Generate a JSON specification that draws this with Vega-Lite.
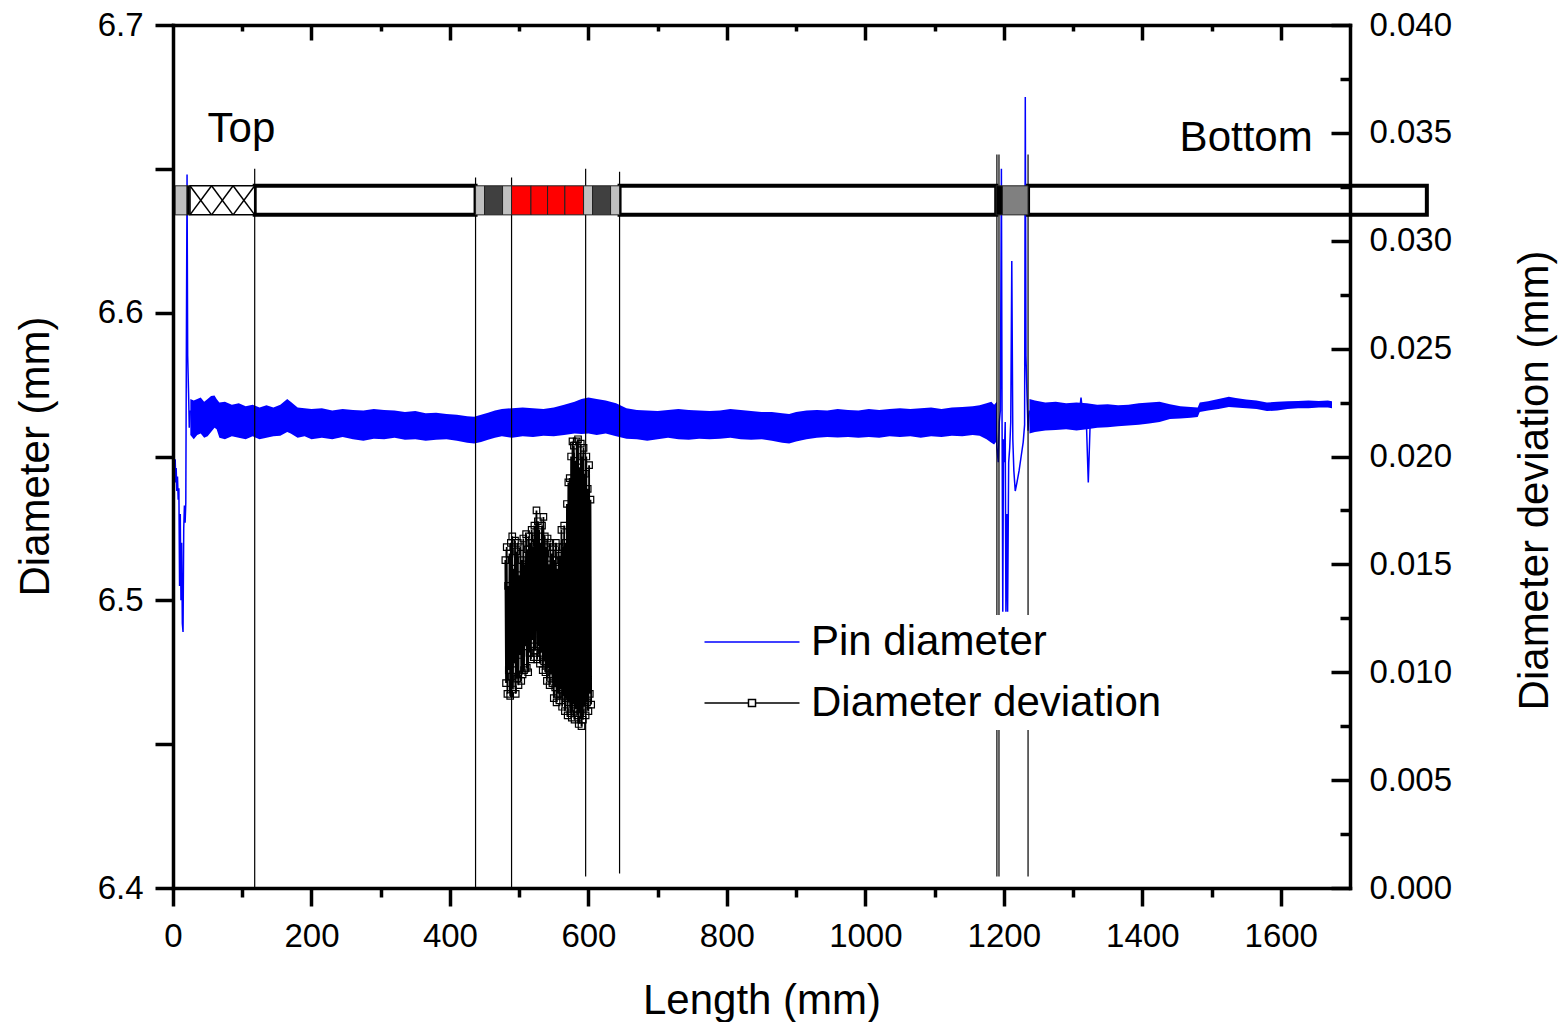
{
  "$schema": "https://vega.github.io/schema/vega-lite/v6.json",
  "width": 1177,
  "height": 863,
  "autosize": {"type": "none"},
  "padding": {"left": 173, "top": 25, "right": 212, "bottom": 134},
  "background": "white",
  "config": {
    "view": {"stroke": null},
    "font": "Liberation Sans",
    "axis": {
      "domainColor": "#000000", "domainWidth": 3.5, "domainCap": "square",
      "tickColor": "#000000", "tickWidth": 3.5,
      "labelColor": "#000000", "titleColor": "#000000",
      "labelFont": "Liberation Sans", "titleFont": "Liberation Sans",
      "labelFontSize": 33, "titleFontSize": 42, "titleFontWeight": "normal",
      "grid": false, "labelFlush": false, "labelOverlap": false
    }
  },
  "datasets": {
    "band": [
      {"mm": 25, "lo": 6.5575, "hi": 6.5700, "seg": "a"},
      {"mm": 30, "lo": 6.5560, "hi": 6.5695, "seg": "a"},
      {"mm": 35, "lo": 6.5575, "hi": 6.5700, "seg": "a"},
      {"mm": 40, "lo": 6.5580, "hi": 6.5705, "seg": "a"},
      {"mm": 45, "lo": 6.5565, "hi": 6.5690, "seg": "a"},
      {"mm": 50, "lo": 6.5570, "hi": 6.5700, "seg": "a"},
      {"mm": 55, "lo": 6.5585, "hi": 6.5710, "seg": "a"},
      {"mm": 60, "lo": 6.5600, "hi": 6.5712, "seg": "a"},
      {"mm": 63, "lo": 6.5595, "hi": 6.5700, "seg": "a"},
      {"mm": 67, "lo": 6.5565, "hi": 6.5688, "seg": "a"},
      {"mm": 75, "lo": 6.5560, "hi": 6.5690, "seg": "a"},
      {"mm": 85, "lo": 6.5570, "hi": 6.5680, "seg": "a"},
      {"mm": 95, "lo": 6.5565, "hi": 6.5685, "seg": "a"},
      {"mm": 105, "lo": 6.5560, "hi": 6.5675, "seg": "a"},
      {"mm": 115, "lo": 6.5570, "hi": 6.5680, "seg": "a"},
      {"mm": 125, "lo": 6.5560, "hi": 6.5670, "seg": "a"},
      {"mm": 135, "lo": 6.5565, "hi": 6.5678, "seg": "a"},
      {"mm": 145, "lo": 6.5570, "hi": 6.5670, "seg": "a"},
      {"mm": 155, "lo": 6.5572, "hi": 6.5680, "seg": "a"},
      {"mm": 165, "lo": 6.5585, "hi": 6.5700, "seg": "a"},
      {"mm": 170, "lo": 6.5580, "hi": 6.5690, "seg": "a"},
      {"mm": 180, "lo": 6.5565, "hi": 6.5670, "seg": "a"},
      {"mm": 190, "lo": 6.5570, "hi": 6.5668, "seg": "a"},
      {"mm": 200, "lo": 6.5560, "hi": 6.5665, "seg": "a"},
      {"mm": 215, "lo": 6.5565, "hi": 6.5668, "seg": "a"},
      {"mm": 230, "lo": 6.5560, "hi": 6.5660, "seg": "a"},
      {"mm": 245, "lo": 6.5568, "hi": 6.5665, "seg": "a"},
      {"mm": 260, "lo": 6.5560, "hi": 6.5662, "seg": "a"},
      {"mm": 275, "lo": 6.5555, "hi": 6.5660, "seg": "a"},
      {"mm": 290, "lo": 6.5562, "hi": 6.5665, "seg": "a"},
      {"mm": 305, "lo": 6.5560, "hi": 6.5662, "seg": "a"},
      {"mm": 320, "lo": 6.5565, "hi": 6.5660, "seg": "a"},
      {"mm": 335, "lo": 6.5558, "hi": 6.5655, "seg": "a"},
      {"mm": 350, "lo": 6.5560, "hi": 6.5658, "seg": "a"},
      {"mm": 365, "lo": 6.5555, "hi": 6.5650, "seg": "a"},
      {"mm": 380, "lo": 6.5558, "hi": 6.5652, "seg": "a"},
      {"mm": 395, "lo": 6.5560, "hi": 6.5648, "seg": "a"},
      {"mm": 410, "lo": 6.5555, "hi": 6.5645, "seg": "a"},
      {"mm": 425, "lo": 6.5548, "hi": 6.5640, "seg": "a"},
      {"mm": 435, "lo": 6.5545, "hi": 6.5638, "seg": "a"},
      {"mm": 445, "lo": 6.5550, "hi": 6.5645, "seg": "a"},
      {"mm": 455, "lo": 6.5558, "hi": 6.5652, "seg": "a"},
      {"mm": 465, "lo": 6.5565, "hi": 6.5660, "seg": "a"},
      {"mm": 475, "lo": 6.5570, "hi": 6.5665, "seg": "a"},
      {"mm": 490, "lo": 6.5565, "hi": 6.5668, "seg": "a"},
      {"mm": 505, "lo": 6.5570, "hi": 6.5670, "seg": "a"},
      {"mm": 520, "lo": 6.5568, "hi": 6.5668, "seg": "a"},
      {"mm": 535, "lo": 6.5572, "hi": 6.5665, "seg": "a"},
      {"mm": 550, "lo": 6.5570, "hi": 6.5670, "seg": "a"},
      {"mm": 565, "lo": 6.5575, "hi": 6.5680, "seg": "a"},
      {"mm": 580, "lo": 6.5580, "hi": 6.5690, "seg": "a"},
      {"mm": 590, "lo": 6.5578, "hi": 6.5700, "seg": "a"},
      {"mm": 600, "lo": 6.5580, "hi": 6.5705, "seg": "a"},
      {"mm": 612, "lo": 6.5575, "hi": 6.5700, "seg": "a"},
      {"mm": 625, "lo": 6.5580, "hi": 6.5695, "seg": "a"},
      {"mm": 640, "lo": 6.5570, "hi": 6.5685, "seg": "a"},
      {"mm": 655, "lo": 6.5562, "hi": 6.5668, "seg": "a"},
      {"mm": 670, "lo": 6.5560, "hi": 6.5662, "seg": "a"},
      {"mm": 685, "lo": 6.5555, "hi": 6.5660, "seg": "a"},
      {"mm": 700, "lo": 6.5560, "hi": 6.5658, "seg": "a"},
      {"mm": 715, "lo": 6.5565, "hi": 6.5662, "seg": "a"},
      {"mm": 730, "lo": 6.5560, "hi": 6.5665, "seg": "a"},
      {"mm": 745, "lo": 6.5558, "hi": 6.5662, "seg": "a"},
      {"mm": 760, "lo": 6.5562, "hi": 6.5660, "seg": "a"},
      {"mm": 775, "lo": 6.5560, "hi": 6.5658, "seg": "a"},
      {"mm": 790, "lo": 6.5562, "hi": 6.5660, "seg": "a"},
      {"mm": 805, "lo": 6.5565, "hi": 6.5665, "seg": "a"},
      {"mm": 820, "lo": 6.5560, "hi": 6.5662, "seg": "a"},
      {"mm": 835, "lo": 6.5558, "hi": 6.5658, "seg": "a"},
      {"mm": 850, "lo": 6.5560, "hi": 6.5655, "seg": "a"},
      {"mm": 865, "lo": 6.5555, "hi": 6.5655, "seg": "a"},
      {"mm": 880, "lo": 6.5548, "hi": 6.5650, "seg": "a"},
      {"mm": 890, "lo": 6.5545, "hi": 6.5648, "seg": "a"},
      {"mm": 900, "lo": 6.5552, "hi": 6.5655, "seg": "a"},
      {"mm": 915, "lo": 6.5560, "hi": 6.5660, "seg": "a"},
      {"mm": 930, "lo": 6.5565, "hi": 6.5662, "seg": "a"},
      {"mm": 945, "lo": 6.5568, "hi": 6.5660, "seg": "a"},
      {"mm": 960, "lo": 6.5566, "hi": 6.5665, "seg": "a"},
      {"mm": 975, "lo": 6.5568, "hi": 6.5662, "seg": "a"},
      {"mm": 990, "lo": 6.5565, "hi": 6.5660, "seg": "a"},
      {"mm": 1005, "lo": 6.5568, "hi": 6.5665, "seg": "a"},
      {"mm": 1020, "lo": 6.5565, "hi": 6.5662, "seg": "a"},
      {"mm": 1035, "lo": 6.5570, "hi": 6.5665, "seg": "a"},
      {"mm": 1050, "lo": 6.5568, "hi": 6.5668, "seg": "a"},
      {"mm": 1065, "lo": 6.5570, "hi": 6.5665, "seg": "a"},
      {"mm": 1080, "lo": 6.5565, "hi": 6.5668, "seg": "a"},
      {"mm": 1095, "lo": 6.5570, "hi": 6.5670, "seg": "a"},
      {"mm": 1110, "lo": 6.5568, "hi": 6.5665, "seg": "a"},
      {"mm": 1125, "lo": 6.5572, "hi": 6.5670, "seg": "a"},
      {"mm": 1140, "lo": 6.5570, "hi": 6.5672, "seg": "a"},
      {"mm": 1155, "lo": 6.5575, "hi": 6.5675, "seg": "a"},
      {"mm": 1165, "lo": 6.5572, "hi": 6.5678, "seg": "a"},
      {"mm": 1175, "lo": 6.5560, "hi": 6.5685, "seg": "a"},
      {"mm": 1182, "lo": 6.5548, "hi": 6.5690, "seg": "a"},
      {"mm": 1186, "lo": 6.5542, "hi": 6.5680, "seg": "a"},
      {"mm": 1190, "lo": 6.5555, "hi": 6.5690, "seg": "a"},
      {"mm": 1237, "lo": 6.5580, "hi": 6.5700, "seg": "b"},
      {"mm": 1245, "lo": 6.5585, "hi": 6.5695, "seg": "b"},
      {"mm": 1260, "lo": 6.5590, "hi": 6.5688, "seg": "b"},
      {"mm": 1275, "lo": 6.5592, "hi": 6.5690, "seg": "b"},
      {"mm": 1290, "lo": 6.5595, "hi": 6.5685, "seg": "b"},
      {"mm": 1305, "lo": 6.5590, "hi": 6.5688, "seg": "b"},
      {"mm": 1320, "lo": 6.5595, "hi": 6.5685, "seg": "b"},
      {"mm": 1335, "lo": 6.5600, "hi": 6.5680, "seg": "b"},
      {"mm": 1350, "lo": 6.5602, "hi": 6.5682, "seg": "b"},
      {"mm": 1365, "lo": 6.5605, "hi": 6.5678, "seg": "b"},
      {"mm": 1380, "lo": 6.5608, "hi": 6.5680, "seg": "b"},
      {"mm": 1395, "lo": 6.5610, "hi": 6.5685, "seg": "b"},
      {"mm": 1410, "lo": 6.5615, "hi": 6.5688, "seg": "b"},
      {"mm": 1425, "lo": 6.5620, "hi": 6.5690, "seg": "b"},
      {"mm": 1440, "lo": 6.5630, "hi": 6.5682, "seg": "b"},
      {"mm": 1455, "lo": 6.5632, "hi": 6.5675, "seg": "b"},
      {"mm": 1470, "lo": 6.5635, "hi": 6.5672, "seg": "b"},
      {"mm": 1480, "lo": 6.5637, "hi": 6.5670, "seg": "b"},
      {"mm": 1483, "lo": 6.5655, "hi": 6.5688, "seg": "b"},
      {"mm": 1495, "lo": 6.5660, "hi": 6.5692, "seg": "b"},
      {"mm": 1510, "lo": 6.5665, "hi": 6.5700, "seg": "b"},
      {"mm": 1525, "lo": 6.5672, "hi": 6.5708, "seg": "b"},
      {"mm": 1535, "lo": 6.5670, "hi": 6.5703, "seg": "b"},
      {"mm": 1550, "lo": 6.5668, "hi": 6.5698, "seg": "b"},
      {"mm": 1565, "lo": 6.5665, "hi": 6.5695, "seg": "b"},
      {"mm": 1580, "lo": 6.5658, "hi": 6.5688, "seg": "b"},
      {"mm": 1595, "lo": 6.5660, "hi": 6.5690, "seg": "b"},
      {"mm": 1610, "lo": 6.5665, "hi": 6.5692, "seg": "b"},
      {"mm": 1625, "lo": 6.5668, "hi": 6.5693, "seg": "b"},
      {"mm": 1640, "lo": 6.5668, "hi": 6.5695, "seg": "b"},
      {"mm": 1655, "lo": 6.5670, "hi": 6.5693, "seg": "b"},
      {"mm": 1668, "lo": 6.5670, "hi": 6.5695, "seg": "b"},
      {"mm": 1674, "lo": 6.5668, "hi": 6.5692, "seg": "b"}
    ],
    "pin": [
      {"mm": 1.2, "d": 6.400, "seg": "a"},
      {"mm": 1.6, "d": 6.549, "seg": "a"},
      {"mm": 2.5, "d": 6.545, "seg": "a"},
      {"mm": 3.2, "d": 6.549, "seg": "a"},
      {"mm": 3.9, "d": 6.541, "seg": "a"},
      {"mm": 4.6, "d": 6.546, "seg": "a"},
      {"mm": 5.5, "d": 6.538, "seg": "a"},
      {"mm": 6.5, "d": 6.543, "seg": "a"},
      {"mm": 7.5, "d": 6.535, "seg": "a"},
      {"mm": 8.5, "d": 6.539, "seg": "a"},
      {"mm": 9.5, "d": 6.505, "seg": "a"},
      {"mm": 10.5, "d": 6.530, "seg": "a"},
      {"mm": 11.5, "d": 6.500, "seg": "a"},
      {"mm": 12.5, "d": 6.520, "seg": "a"},
      {"mm": 13.5, "d": 6.492, "seg": "a"},
      {"mm": 14.5, "d": 6.489, "seg": "a"},
      {"mm": 15.5, "d": 6.525, "seg": "a"},
      {"mm": 16.5, "d": 6.533, "seg": "a"},
      {"mm": 17.5, "d": 6.527, "seg": "a"},
      {"mm": 18.5, "d": 6.534, "seg": "a"},
      {"mm": 19.5, "d": 6.600, "seg": "a"},
      {"mm": 20.3, "d": 6.648, "seg": "a"},
      {"mm": 21.2, "d": 6.585, "seg": "a"},
      {"mm": 22.5, "d": 6.572, "seg": "a"},
      {"mm": 23.5, "d": 6.560, "seg": "a"},
      {"mm": 25, "d": 6.566, "seg": "a"},
      {"mm": 1184, "d": 6.560, "seg": "b"},
      {"mm": 1186, "d": 6.555, "seg": "b"},
      {"mm": 1188, "d": 6.566, "seg": "b"},
      {"mm": 1190, "d": 6.553, "seg": "b"},
      {"mm": 1192, "d": 6.548, "seg": "b"},
      {"mm": 1193.5, "d": 6.562, "seg": "b"},
      {"mm": 1195, "d": 6.566, "seg": "b"},
      {"mm": 1196.5, "d": 6.650, "seg": "b"},
      {"mm": 1197.5, "d": 6.560, "seg": "b"},
      {"mm": 1198.5, "d": 6.496, "seg": "b"},
      {"mm": 1199.5, "d": 6.556, "seg": "b"},
      {"mm": 1200.5, "d": 6.548, "seg": "b"},
      {"mm": 1202, "d": 6.562, "seg": "b"},
      {"mm": 1203, "d": 6.496, "seg": "b"},
      {"mm": 1204.5, "d": 6.530, "seg": "b"},
      {"mm": 1205.5, "d": 6.496, "seg": "b"},
      {"mm": 1207, "d": 6.548, "seg": "b"},
      {"mm": 1208.5, "d": 6.553, "seg": "b"},
      {"mm": 1210, "d": 6.562, "seg": "b"},
      {"mm": 1211.5, "d": 6.618, "seg": "b"},
      {"mm": 1213, "d": 6.556, "seg": "b"},
      {"mm": 1214.5, "d": 6.545, "seg": "b"},
      {"mm": 1216.5, "d": 6.538, "seg": "b"},
      {"mm": 1219, "d": 6.541, "seg": "b"},
      {"mm": 1222, "d": 6.545, "seg": "b"},
      {"mm": 1225, "d": 6.550, "seg": "b"},
      {"mm": 1228, "d": 6.555, "seg": "b"},
      {"mm": 1230, "d": 6.561, "seg": "b"},
      {"mm": 1231, "d": 6.675, "seg": "b"},
      {"mm": 1232, "d": 6.585, "seg": "b"},
      {"mm": 1233.5, "d": 6.571, "seg": "b"},
      {"mm": 1235, "d": 6.559, "seg": "b"},
      {"mm": 1237, "d": 6.566, "seg": "b"},
      {"mm": 1309, "d": 6.5650, "seg": "c"},
      {"mm": 1311.5, "d": 6.5705, "seg": "c"},
      {"mm": 1314, "d": 6.5650, "seg": "c"},
      {"mm": 1319.5, "d": 6.5600, "seg": "d"},
      {"mm": 1322, "d": 6.5410, "seg": "d"},
      {"mm": 1324.5, "d": 6.5600, "seg": "d"}
    ],
    "bar": [
      {"start": 3, "end": 21, "kind": "light"},
      {"start": 20, "end": 24.5, "kind": "black"},
      {"start": 24.5, "end": 118, "kind": "hatch"},
      {"start": 118, "end": 437, "kind": "white"},
      {"start": 437, "end": 450, "kind": "light"},
      {"start": 450, "end": 476, "kind": "dark"},
      {"start": 476, "end": 489, "kind": "light"},
      {"start": 489, "end": 517, "kind": "red"},
      {"start": 517, "end": 541, "kind": "red"},
      {"start": 541, "end": 566, "kind": "red"},
      {"start": 566, "end": 593, "kind": "red"},
      {"start": 593, "end": 606, "kind": "light"},
      {"start": 606, "end": 632, "kind": "dark"},
      {"start": 632, "end": 645, "kind": "light"},
      {"start": 645, "end": 1189, "kind": "white"},
      {"start": 1189, "end": 1198, "kind": "black"},
      {"start": 1198, "end": 1235, "kind": "gray"},
      {"start": 1235, "end": 1811, "kind": "white"}
    ],
    "hatch": [
      {"x1": 24.5, "x2": 55.7, "ya": 6.6441, "yb": 6.6340},
      {"x1": 24.5, "x2": 55.7, "ya": 6.6340, "yb": 6.6441},
      {"x1": 55.7, "x2": 86.8, "ya": 6.6441, "yb": 6.6340},
      {"x1": 55.7, "x2": 86.8, "ya": 6.6340, "yb": 6.6441},
      {"x1": 86.8, "x2": 118, "ya": 6.6441, "yb": 6.6340},
      {"x1": 86.8, "x2": 118, "ya": 6.6340, "yb": 6.6441}
    ],
    "vlines": [
      {"mm": 118, "top": 6.650, "bottom": 6.400},
      {"mm": 437, "top": 6.647, "bottom": 6.400},
      {"mm": 489, "top": 6.647, "bottom": 6.400},
      {"mm": 596, "top": 6.650, "bottom": 6.404},
      {"mm": 645, "top": 6.649, "bottom": 6.405},
      {"mm": 1190, "top": 6.655, "bottom": 6.404},
      {"mm": 1193, "top": 6.655, "bottom": 6.404},
      {"mm": 1235, "top": 6.655, "bottom": 6.404}
    ],
    "labels": [
      {"mm": 98.8, "d": 6.6595, "text": "Top"},
      {"mm": 1550, "d": 6.6563, "text": "Bottom"}
    ],
    "dev": [
      {"mm": 480, "dev": 0.0152}, {"mm": 481, "dev": 0.0095}, {"mm": 482, "dev": 0.0158}, {"mm": 483, "dev": 0.0090},
      {"mm": 484, "dev": 0.0140}, {"mm": 485, "dev": 0.0101}, {"mm": 486, "dev": 0.0155}, {"mm": 487, "dev": 0.0089},
      {"mm": 488, "dev": 0.0160}, {"mm": 489, "dev": 0.0098}, {"mm": 490, "dev": 0.0163}, {"mm": 491, "dev": 0.0092},
      {"mm": 492, "dev": 0.0148}, {"mm": 493, "dev": 0.0104}, {"mm": 494, "dev": 0.0161}, {"mm": 495, "dev": 0.0090},
      {"mm": 496, "dev": 0.0156}, {"mm": 497, "dev": 0.0097}, {"mm": 498, "dev": 0.0160}, {"mm": 499, "dev": 0.0094},
      {"mm": 500, "dev": 0.0145}, {"mm": 501, "dev": 0.0108}, {"mm": 502, "dev": 0.0158}, {"mm": 503, "dev": 0.0096},
      {"mm": 504, "dev": 0.0152}, {"mm": 505, "dev": 0.0099}, {"mm": 506, "dev": 0.0162}, {"mm": 507, "dev": 0.0101},
      {"mm": 508, "dev": 0.0150}, {"mm": 509, "dev": 0.0112}, {"mm": 510, "dev": 0.0164}, {"mm": 511, "dev": 0.0102},
      {"mm": 512, "dev": 0.0157}, {"mm": 513, "dev": 0.0100}, {"mm": 514, "dev": 0.0163}, {"mm": 515, "dev": 0.0109},
      {"mm": 516, "dev": 0.0160}, {"mm": 517, "dev": 0.0106}, {"mm": 518, "dev": 0.0166}, {"mm": 519, "dev": 0.0115},
      {"mm": 520, "dev": 0.0158}, {"mm": 521, "dev": 0.0107}, {"mm": 522, "dev": 0.0168}, {"mm": 523, "dev": 0.0110},
      {"mm": 524, "dev": 0.0162}, {"mm": 525, "dev": 0.0175}, {"mm": 526, "dev": 0.0106}, {"mm": 527, "dev": 0.0170},
      {"mm": 528, "dev": 0.0112}, {"mm": 529, "dev": 0.0166}, {"mm": 530, "dev": 0.0104}, {"mm": 531, "dev": 0.0160},
      {"mm": 532, "dev": 0.0109}, {"mm": 533, "dev": 0.0168}, {"mm": 534, "dev": 0.0101}, {"mm": 535, "dev": 0.0172},
      {"mm": 536, "dev": 0.0105}, {"mm": 537, "dev": 0.0163}, {"mm": 538, "dev": 0.0100}, {"mm": 539, "dev": 0.0158},
      {"mm": 540, "dev": 0.0096}, {"mm": 541, "dev": 0.0162}, {"mm": 542, "dev": 0.0102}, {"mm": 543, "dev": 0.0150},
      {"mm": 544, "dev": 0.0094}, {"mm": 545, "dev": 0.0160}, {"mm": 546, "dev": 0.0099}, {"mm": 547, "dev": 0.0155},
      {"mm": 548, "dev": 0.0095}, {"mm": 549, "dev": 0.0158}, {"mm": 550, "dev": 0.0088}, {"mm": 551, "dev": 0.0152},
      {"mm": 552, "dev": 0.0093}, {"mm": 553, "dev": 0.0160}, {"mm": 554, "dev": 0.0086}, {"mm": 555, "dev": 0.0148},
      {"mm": 556, "dev": 0.0090}, {"mm": 557, "dev": 0.0158}, {"mm": 558, "dev": 0.0087}, {"mm": 559, "dev": 0.0154},
      {"mm": 560, "dev": 0.0092}, {"mm": 561, "dev": 0.0166}, {"mm": 562, "dev": 0.0084}, {"mm": 563, "dev": 0.0158},
      {"mm": 564, "dev": 0.0089}, {"mm": 565, "dev": 0.0168}, {"mm": 566, "dev": 0.0082}, {"mm": 567, "dev": 0.0160},
      {"mm": 568, "dev": 0.0088}, {"mm": 569, "dev": 0.0178}, {"mm": 570, "dev": 0.0080}, {"mm": 571, "dev": 0.0188},
      {"mm": 572, "dev": 0.0086}, {"mm": 573, "dev": 0.0190}, {"mm": 574, "dev": 0.0081}, {"mm": 575, "dev": 0.0200},
      {"mm": 576, "dev": 0.0079}, {"mm": 577, "dev": 0.0207}, {"mm": 578, "dev": 0.0085}, {"mm": 579, "dev": 0.0205},
      {"mm": 580, "dev": 0.0078}, {"mm": 581, "dev": 0.0198}, {"mm": 582, "dev": 0.0083}, {"mm": 583, "dev": 0.0207},
      {"mm": 584, "dev": 0.0080}, {"mm": 585, "dev": 0.0208}, {"mm": 586, "dev": 0.0076}, {"mm": 587, "dev": 0.0195},
      {"mm": 588, "dev": 0.0081}, {"mm": 589, "dev": 0.0206}, {"mm": 590, "dev": 0.0075}, {"mm": 591, "dev": 0.0200},
      {"mm": 592, "dev": 0.0078}, {"mm": 593, "dev": 0.0204}, {"mm": 594, "dev": 0.0084}, {"mm": 595, "dev": 0.0192},
      {"mm": 596, "dev": 0.0080}, {"mm": 597, "dev": 0.0200}, {"mm": 598, "dev": 0.0086}, {"mm": 599, "dev": 0.0185},
      {"mm": 600, "dev": 0.0082}, {"mm": 601, "dev": 0.0196}, {"mm": 602, "dev": 0.0090}, {"mm": 603, "dev": 0.0180},
      {"mm": 604, "dev": 0.0085}
    ]
  },
  "layer": [
    {
      "layer": [
        {
          "data": {"name": "band"},
          "mark": {"type": "area", "color": "#0000ff", "opacity": 1},
          "encoding": {
            "x": {"field": "mm", "type": "quantitative",
              "scale": {"domain": [0, 1700], "nice": false, "zero": false},
              "axis": {"orient": "bottom", "values": [0, 200, 400, 600, 800, 1000, 1200, 1400, 1600], "format": "d",
                "tickSize": 18, "labelPadding": 14, "title": "Length (mm)", "titleY": 125, "titleBaseline": "alphabetic", "zindex": 1}},
            "y": {"field": "lo", "type": "quantitative",
              "scale": {"domain": [6.4, 6.7], "nice": false, "zero": false},
              "axis": {"orient": "left", "values": [6.4, 6.45, 6.5, 6.55, 6.6, 6.65, 6.7],
                "labelExpr": "abs(datum.value * 10 - round(datum.value * 10)) < 0.001 ? format(datum.value, '.1f') : ''",
                "tickSize": 18, "labelPadding": 12, "title": "Diameter (mm)", "titleAngle": 270,
                "titleX": -125, "titleY": 431, "titleBaseline": "alphabetic", "zindex": 1}},
            "y2": {"field": "hi"},
            "detail": {"field": "seg"}
          }
        },
        {
          "data": {"name": "pin"},
          "mark": {"type": "line", "strokeWidth": 1.5},
          "encoding": {
            "x": {"field": "mm", "type": "quantitative",
              "scale": {"domain": [0, 1700], "nice": false, "zero": false},
              "axis": {"orient": "bottom", "values": [100, 300, 500, 700, 900, 1100, 1300, 1500],
                "tickSize": 9, "labels": false, "domain": false, "title": null, "zindex": 1}},
            "y": {"field": "d", "type": "quantitative", "axis": null},
            "detail": {"field": "seg"},
            "color": {"datum": "Pin diameter",
              "scale": {"domain": ["Pin diameter", "Diameter deviation"], "range": ["#0000ff", "#000000"]},
              "legend": {
                "orient": "none", "legendX": 552, "legendY": 590, "padding": 6,
                "fillColor": "white", "strokeColor": null, "title": null,
                "labelFont": "Liberation Sans", "labelFontSize": 42, "labelColor": "#000000", "labelLimit": 0,
                "symbolSize": 361, "labelOffset": 38, "rowPadding": 19, "symbolStrokeWidth": 1.5,
                "encode": {
                  "symbols": {
                    "update": {
                      "shape": {"signal": "datum.value === 'Diameter deviation' ? 'M-5,0H-0.37M-0.37,-0.37H0.37V0.37H-0.37ZM0.37,0H5' : 'M-5,0H5'"},
                      "stroke": {"scale": "color", "field": "value"},
                      "fill": {"value": "white"},
                      "strokeWidth": {"value": 1.5},
                      "opacity": {"value": 1}
                    }
                  }
                }
              }
            }
          }
        },
        {
          "data": {"name": "vlines"},
          "mark": {"type": "rule", "color": "#000000", "strokeWidth": 1.2},
          "encoding": {
            "x": {"field": "mm", "type": "quantitative",
              "scale": {"domain": [0, 1700], "nice": false, "zero": false},
              "axis": {"orient": "top", "values": [200, 400, 600, 800, 1000, 1200, 1400, 1600],
                "tickSize": -15, "labels": false, "domain": true, "title": null, "zindex": 1}},
            "y": {"field": "top", "type": "quantitative", "axis": null},
            "y2": {"field": "bottom"}
          }
        },
        {
          "data": {"name": "bar"},
          "transform": [{"filter": "datum.kind === 'white'"}],
          "mark": {"type": "rect", "fill": "#ffffff", "stroke": "#000000", "strokeWidth": 4},
          "encoding": {
            "x": {"field": "start", "type": "quantitative",
              "scale": {"domain": [0, 1700], "nice": false, "zero": false},
              "axis": {"orient": "top", "values": [100, 300, 500, 700, 900, 1100, 1300, 1500],
                "tickSize": -6, "labels": false, "domain": false, "title": null, "zindex": 1}},
            "x2": {"field": "end"},
            "y": {"datum": 6.6441, "type": "quantitative", "axis": null},
            "y2": {"datum": 6.6340}
          }
        },
        {
          "data": {"name": "bar"},
          "transform": [{"filter": "datum.kind === 'hatch'"}],
          "mark": {"type": "rect", "fill": "#ffffff", "stroke": "#000000", "strokeWidth": 1.5},
          "encoding": {
            "x": {"field": "start", "type": "quantitative", "axis": null},
            "x2": {"field": "end"},
            "y": {"datum": 6.6441, "type": "quantitative", "axis": null},
            "y2": {"datum": 6.6340}
          }
        },
        {
          "data": {"name": "bar"},
          "transform": [{"filter": "datum.kind !== 'white' && datum.kind !== 'hatch'"}],
          "mark": {"type": "rect", "stroke": "#222222", "strokeWidth": 1},
          "encoding": {
            "x": {"field": "start", "type": "quantitative", "axis": null},
            "x2": {"field": "end"},
            "y": {"datum": 6.6441, "type": "quantitative", "axis": null},
            "y2": {"datum": 6.6340},
            "fill": {"field": "kind", "type": "nominal", "legend": null,
              "scale": {"domain": ["light", "dark", "red", "gray", "black"],
                "range": ["#c0c0c0", "#404040", "#ff0000", "#808080", "#000000"]}}
          }
        },
        {
          "data": {"name": "hatch"},
          "mark": {"type": "rule", "color": "#000000", "strokeWidth": 1.5},
          "encoding": {
            "x": {"field": "x1", "type": "quantitative", "axis": null},
            "x2": {"field": "x2"},
            "y": {"field": "ya", "type": "quantitative", "axis": null},
            "y2": {"field": "yb"}
          }
        },
        {
          "data": {"name": "labels"},
          "mark": {"type": "text", "font": "Liberation Sans", "fontSize": 42, "color": "#000000", "align": "center", "baseline": "alphabetic"},
          "encoding": {
            "x": {"field": "mm", "type": "quantitative", "axis": null},
            "y": {"field": "d", "type": "quantitative", "axis": null},
            "text": {"field": "text"}
          }
        }
      ],
      "resolve": {"axis": {"x": "independent", "y": "independent"}}
    },
    {
      "layer": [
        {
          "data": {"name": "dev"},
          "mark": {"type": "line", "strokeWidth": 1.8},
          "encoding": {
            "x": {"field": "mm", "type": "quantitative",
              "scale": {"domain": [0, 1700], "nice": false, "zero": false}, "axis": null},
            "y": {"field": "dev", "type": "quantitative",
              "scale": {"domain": [0, 0.04], "nice": false, "zero": false},
              "axis": {"orient": "right", "values": [0, 0.005, 0.01, 0.015, 0.02, 0.025, 0.03, 0.035, 0.04],
                "format": ".3f", "tickSize": -19, "labelPadding": 38, "title": "Diameter deviation (mm)",
                "titleAngle": 270, "titleX": 197, "titleY": 455, "titleBaseline": "alphabetic", "zindex": 1}},
            "color": {"datum": "Diameter deviation"}
          }
        },
        {
          "data": {"name": "dev"},
          "mark": {"type": "point", "shape": "square", "filled": false, "size": 42, "strokeWidth": 1.2, "opacity": 1},
          "encoding": {
            "x": {"field": "mm", "type": "quantitative", "axis": null},
            "y": {"field": "dev", "type": "quantitative",
              "axis": {"orient": "right", "values": [0.0025, 0.0075, 0.0125, 0.0175, 0.0225, 0.0275, 0.0325, 0.0375],
                "tickSize": -10, "labels": false, "domain": false, "title": null, "zindex": 1}},
            "color": {"datum": "Diameter deviation"}
          }
        }
      ],
      "resolve": {"axis": {"y": "independent"}}
    }
  ],
  "resolve": {"scale": {"y": "independent"}, "axis": {"x": "independent", "y": "independent"}}
}
